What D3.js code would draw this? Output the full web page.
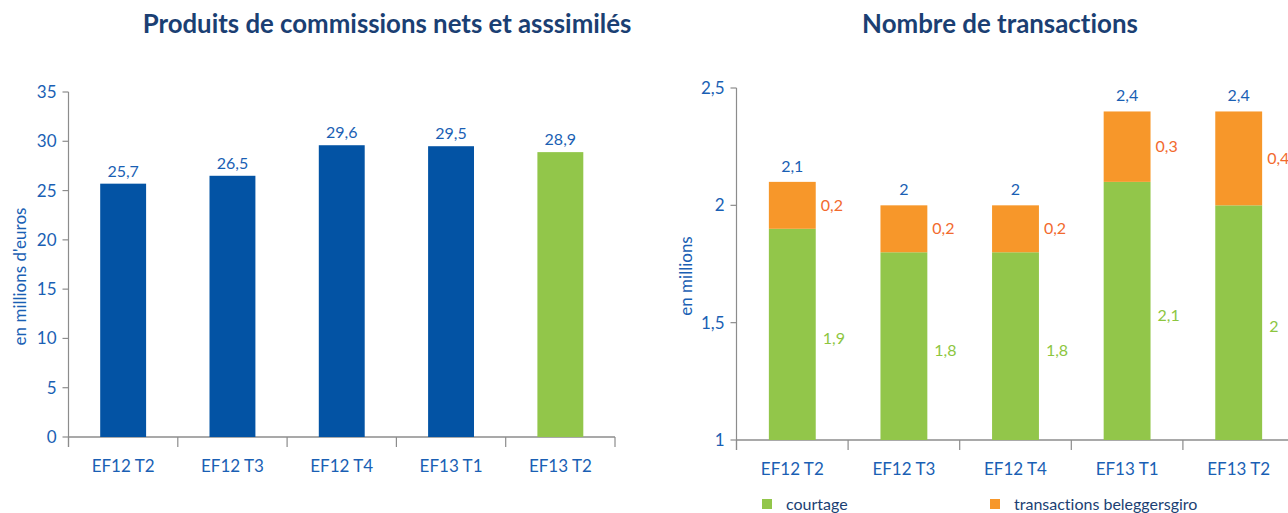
<!DOCTYPE html>
<html><head><meta charset="utf-8">
<script src="https://cdn.jsdelivr.net/npm/d3@7"></script>
<style>
html,body{margin:0;padding:0;background:#fff;}
svg text{font-family:Lato,"Open Sans",sans-serif;font-variant-ligatures:none;font-feature-settings:"liga" 0,"dlig" 0;}
</style></head>
<body>
<svg id="c" width="1288" height="513"></svg>
<script>
const categories = ["EF12 T2","EF12 T3","EF12 T4","EF13 T1","EF13 T2"];
const commissions = [25.7, 26.5, 29.6, 29.5, 28.9];
const commissionTicks = [0,5,10,15,20,25,30,35];
const courtage = [1.9, 1.8, 1.8, 2.1, 2.0];
const beleggersgiro = [0.2, 0.2, 0.2, 0.3, 0.4];
const totals = [2.1, 2.0, 2.0, 2.4, 2.4];
const transTicks = [1, 1.5, 2, 2.5];
const titles = ["Produits de commissions nets et asssimilés", "Nombre de transactions"];
const yTitles = ["en millions d'euros", "en millions"];
const legendLabels = ["courtage", "transactions beleggersgiro"];

const BLUE = "#0353a4", GREEN = "#92c64a", ORANGE = "#f7972a";
const TXT = "#1a5fb4", NAVY = "#1b3f73", OTXT = "#f26a2e", GTXT = "#8dc63f", AX = "#8c8c8c";
const fmt = v => String(v).replace(".", ",");
const svg = d3.select("#c");

function fitTitle(t, cx, y, width) {
  const el = svg.append("text").attr("x", cx).attr("y", y).attr("text-anchor", "middle")
    .attr("fill", NAVY).attr("font-weight", "bold").attr("font-size", 22).text(t);
  const w = el.node().getComputedTextLength();
  el.attr("font-size", 22 * width / w);
}
fitTitle(titles[0], 387, 33, 489);
fitTitle(titles[1], 1000, 33, 276);

function drawAxes(x, y, ticks, x0, x1, fmtT, yTitle, ytx) {
  const g = svg.append("g");
  const yBase = y.range()[0];
  g.append("line").attr("x1", x0).attr("x2", x0).attr("y1", y.range()[1]).attr("y2", yBase + 10)
    .attr("stroke", AX).attr("stroke-width", 1.2);
  ticks.forEach(t => {
    g.append("line").attr("x1", x0 - 6).attr("x2", x0).attr("y1", y(t)).attr("y2", y(t))
      .attr("stroke", AX).attr("stroke-width", 1.2);
    g.append("text").attr("x", x0 - 12).attr("y", y(t)).attr("dy", "0.35em")
      .attr("text-anchor", "end").attr("fill", TXT).attr("font-size", 17).text(fmtT(t));
  });
  g.append("line").attr("x1", x0).attr("x2", x1).attr("y1", yBase).attr("y2", yBase)
    .attr("stroke", AX).attr("stroke-width", 1.5);
  const step = x.step();
  for (let i = 0; i <= categories.length; i++) {
    const xx = x.range()[0] + i * step;
    g.append("line").attr("x1", xx).attr("x2", xx).attr("y1", yBase).attr("y2", yBase + 10)
      .attr("stroke", AX).attr("stroke-width", 1.2);
  }
  categories.forEach(c => {
    g.append("text").attr("x", x(c) + x.bandwidth() / 2).attr("y", yBase + 35)
      .attr("text-anchor", "middle").attr("fill", TXT).attr("font-size", 17).text(c);
  });
  const my = (y.range()[0] + y.range()[1]) / 2 + 12;
  g.append("text").attr("transform", `translate(${ytx},${my}) rotate(-90)`)
    .attr("text-anchor", "middle").attr("fill", TXT).attr("font-size", 17).text(yTitle);
}

// Left chart
const x1 = d3.scaleBand().domain(categories).range([68.5, 615]).paddingInner(0.58).paddingOuter(0.29);
const y1 = d3.scaleLinear().domain([0, 35]).range([437, 92]);
drawAxes(x1, y1, commissionTicks, 68.5, 615, d => d, yTitles[0], 26);
svg.append("g").selectAll("rect").data(commissions).join("rect")
  .attr("x", (d, i) => x1(categories[i])).attr("width", x1.bandwidth())
  .attr("y", d => y1(d)).attr("height", d => y1(0) - y1(d))
  .attr("fill", (d, i) => i === categories.length - 1 ? GREEN : BLUE);
svg.append("g").selectAll("text").data(commissions).join("text")
  .attr("x", (d, i) => x1(categories[i]) + x1.bandwidth() / 2).attr("y", d => y1(d) - 7)
  .attr("text-anchor", "middle").attr("fill", TXT).attr("font-size", 16).text(fmt);

// Right chart
const x2 = d3.scaleBand().domain(categories).range([736.5, 1294.5]).paddingInner(0.58).paddingOuter(0.29);
const y2 = d3.scaleLinear().domain([1, 2.5]).range([440, 88]);
drawAxes(x2, y2, transTicks, 736.5, 1294.5, fmt, yTitles[1], 692);
const gb = svg.append("g");
categories.forEach((c, i) => {
  const bx = x2(c), bw = x2.bandwidth();
  const top1 = courtage[i], top2 = courtage[i] + beleggersgiro[i];
  gb.append("rect").attr("x", bx).attr("width", bw).attr("y", y2(top1)).attr("height", y2(1) - y2(top1)).attr("fill", GREEN);
  gb.append("rect").attr("x", bx).attr("width", bw).attr("y", y2(top2)).attr("height", y2(top1) - y2(top2)).attr("fill", ORANGE);
  gb.append("text").attr("x", bx + bw / 2).attr("y", y2(totals[i]) - 10).attr("text-anchor", "middle")
    .attr("fill", TXT).attr("font-size", 16).text(fmt(totals[i]));
  gb.append("text").attr("x", bx + bw + 5).attr("y", (y2(top1) + y2(top2)) / 2).attr("dy", "0.35em")
    .attr("fill", OTXT).attr("font-size", 16).text(fmt(beleggersgiro[i]));
  gb.append("text").attr("x", bx + bw + 7).attr("y", (y2(1) + y2(top1)) / 2 + 4).attr("dy", "0.35em")
    .attr("fill", GTXT).attr("font-size", 16).text(fmt(courtage[i]));
});

// Legend
const leg = [{c: GREEN, t: legendLabels[0], x: 762}, {c: ORANGE, t: legendLabels[1], x: 990}];
leg.forEach(l => {
  svg.append("rect").attr("x", l.x).attr("y", 499).attr("width", 10).attr("height", 10).attr("fill", l.c);
  svg.append("text").attr("x", l.x + 24).attr("y", 504).attr("dy", "0.35em").attr("fill", NAVY)
    .attr("font-size", 16).text(l.t);
});
</script>
</body></html>
